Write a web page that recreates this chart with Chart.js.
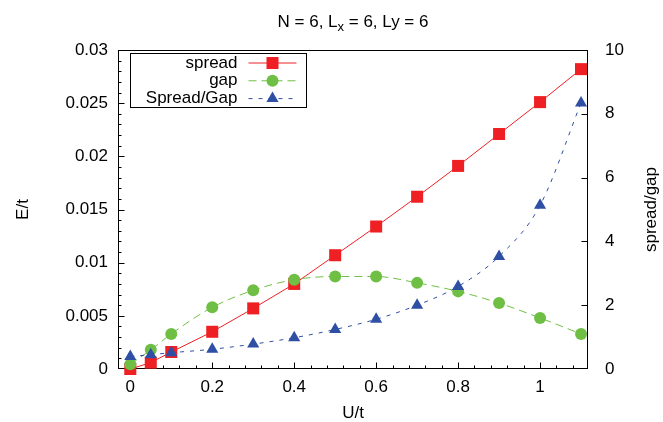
<!DOCTYPE html>
<html>
<head>
<meta charset="utf-8">
<script src="https://cdn.jsdelivr.net/npm/chart.js@4"></script>
<style>
  html, body { margin: 0; padding: 0; background: #fff; }
  canvas { display: block; }
</style>
</head>
<body>
<canvas id="plot" width="663" height="422"></canvas>
<script>
"use strict"
// values
const uValues = [0, 0.05, 0.1, 0.2, 0.3, 0.4, 0.5, 0.6, 0.7, 0.8, 0.9, 1.0, 1.1];
const spread = [0.0000, 0.0006, 0.0016, 0.0035, 0.0057, 0.0080, 0.0107, 0.0134, 0.0162, 0.0191, 0.0221, 0.0251, 0.0282];
const gap = [0.00044, 0.0018, 0.0033, 0.0058, 0.0074, 0.0084, 0.0087, 0.0087, 0.0081, 0.0073, 0.0062, 0.0048, 0.0033];
const ratio = [0.39, 0.45, 0.51, 0.62, 0.78, 0.98, 1.24, 1.56, 2.0, 2.59, 3.53, 5.13, 8.34];

// tick labels
const xTicks = [0, 0.2, 0.4, 0.6, 0.8, 1];
const yTicks = [0, 0.005, 0.01, 0.015, 0.02, 0.025, 0.03];
const y2Ticks = [0, 2, 4, 6, 8, 10];

const FONT = '"Liberation Sans", Arial, sans-serif';
const RED = '#ee2024';
const GREEN = '#70bf45';
const BLUE = '#2f4fa4';

const legendItems = [
  { label: 'spread', color: RED, dash: [], style: 'rect' },
  { label: 'gap', color: GREEN, dash: [8, 5], style: 'circle' },
  { label: 'Spread/Gap', color: BLUE, dash: [4, 6], style: 'triangle' }
];

function pts(ys) {
  return uValues.map((u, i) => ({ x: u, y: ys[i] }));
}

function marker(ctx, style, x, y, color) {
  ctx.save();
  ctx.fillStyle = color;
  ctx.setLineDash([]);
  ctx.beginPath();
  if (style === 'rect') {
    ctx.rect(x - 6, y - 6, 12, 12);
  } else if (style === 'circle') {
    ctx.arc(x, y, 6, 0, Math.PI * 2);
  } else {
    ctx.moveTo(x, y - 7);
    ctx.lineTo(x + 6.1, y + 3.5);
    ctx.lineTo(x - 6.1, y + 3.5);
    ctx.closePath();
  }
  ctx.fill();
  ctx.restore();
}

// frame + inward ticks (gnuplot look)
const framePlugin = {
  id: 'frame',
  beforeDatasetsDraw(chart) {
    const { ctx, chartArea: a, scales } = chart;
    const L = Math.round(a.left) + 0.5, R = Math.round(a.right) - 0.5;
    const T = Math.round(a.top) + 0.5, B = Math.round(a.bottom) - 0.5;
    ctx.save();
    ctx.strokeStyle = '#000';
    ctx.lineWidth = 1;
    ctx.beginPath();
    // x ticks
    for (let k = 1; k * 0.04 < scales.x.max; k++) {
      const v = k * 0.04;
      const px = Math.round(scales.x.getPixelForValue(v)) + 0.5;
      const major = k % 5 === 0;
      ctx.moveTo(px, B);
      ctx.lineTo(px, B - (major ? 6 : 3));
    }
    // left y ticks
    for (let k = 1; k < 30; k++) {
      const py = Math.round(scales.y.getPixelForValue(k * 0.001)) + 0.5;
      ctx.moveTo(L, py);
      ctx.lineTo(L + (k % 5 === 0 ? 6 : 3), py);
    }
    // right y ticks
    y2Ticks.forEach(v => {
      if (v === 0 || v === 10) return;
      const py = Math.round(scales.y2.getPixelForValue(v)) + 0.5;
      ctx.moveTo(R, py);
      ctx.lineTo(R - 6, py);
    });
    ctx.stroke();
    ctx.strokeRect(L, T, R - L, B - T);
    ctx.restore();
  },
  afterDraw(chart) {
    const { ctx, chartArea: a } = chart;
    ctx.save();
    ctx.fillStyle = '#000';

    // title with subscript
    const big = '17px ' + FONT, small = '13px ' + FONT;
    const p1 = 'N = 6, L', p2 = 'x', p3 = ' = 6, Ly = 6';
    ctx.font = big;
    const w1 = ctx.measureText(p1).width, w3 = ctx.measureText(p3).width;
    ctx.font = small;
    const w2 = ctx.measureText(p2).width;
    let tx = (a.left + a.right) / 2 - (w1 + w2 + w3) / 2;
    ctx.textBaseline = 'alphabetic';
    ctx.textAlign = 'left';
    ctx.font = big;
    ctx.fillText(p1, tx, 27);
    ctx.font = small;
    ctx.fillText(p2, tx + w1, 31);
    ctx.font = big;
    ctx.fillText(p3, tx + w1 + w2, 27);

    // axis titles
    ctx.font = '17px ' + FONT;
    ctx.textAlign = 'center';
    ctx.textBaseline = 'middle';
    ctx.fillText('U/t', (a.left + a.right) / 2, 413);
    ctx.save();
    ctx.translate(23, (a.top + a.bottom) / 2);
    ctx.rotate(-Math.PI / 2);
    ctx.fillText('E/t', 0, 0);
    ctx.restore();
    ctx.save();
    ctx.translate(651, (a.top + a.bottom) / 2);
    ctx.rotate(-Math.PI / 2);
    ctx.fillText('spread/gap', 0, 0);
    ctx.restore();

    // legend box
    const bx = a.left + 12.5, by = a.top + 3.5;
    ctx.fillStyle = '#fff';
    ctx.fillRect(bx, by, 176, 54);
    ctx.strokeStyle = '#000';
    ctx.lineWidth = 1;
    ctx.strokeRect(bx, by, 176, 54);
    legendItems.forEach((it, i) => {
      const cy = by + 9.5 + i * 17.8;
      ctx.fillStyle = '#000';
      ctx.textAlign = 'right';
      ctx.font = '17px ' + FONT;
      ctx.fillText(it.label, bx + 107, cy);
      ctx.strokeStyle = it.color;
      ctx.setLineDash(it.dash);
      ctx.beginPath();
      ctx.moveTo(bx + 118, cy);
      ctx.lineTo(bx + 166, cy);
      ctx.stroke();
      ctx.setLineDash([]);
      marker(ctx, it.style, bx + 142, cy, it.color);
    });
    ctx.restore();
  }
};

new Chart(document.getElementById('plot'), {
  type: 'line',
  data: {
    datasets: [
      {
        label: 'spread',
        data: pts(spread),
        yAxisID: 'y',
        borderColor: RED,
        borderWidth: 1,
        backgroundColor: RED,
        pointStyle: 'rect',
        pointRadius: 8.5,
        pointBorderWidth: 0,
        tension: 0,
        clip: false,
        order: 2
      },
      {
        label: 'gap',
        data: pts(gap),
        yAxisID: 'y',
        borderColor: GREEN,
        borderWidth: 1,
        borderDash: [8, 5],
        backgroundColor: GREEN,
        pointStyle: 'circle',
        pointRadius: 6,
        pointBorderWidth: 0,
        cubicInterpolationMode: 'monotone',
        clip: false,
        order: 1
      },
      {
        label: 'Spread/Gap',
        data: pts(ratio),
        yAxisID: 'y2',
        borderColor: BLUE,
        borderWidth: 1,
        borderDash: [4, 6],
        backgroundColor: BLUE,
        pointStyle: 'triangle',
        pointRadius: 7,
        pointBorderWidth: 0,
        cubicInterpolationMode: 'monotone',
        clip: false,
        order: 0
      }
    ]
  },
  options: {
    responsive: false,
    animation: false,
    layout: { padding: { top: 50, left: 0, right: 0, bottom: 0 } },
    plugins: {
      legend: { display: false },
      tooltip: { enabled: false }
    },
    scales: {
      x: {
        type: 'linear',
        min: -0.03,
        max: 1.117,
        grid: { display: false, drawTicks: false },
        border: { display: false },
        afterBuildTicks: s => { s.ticks = xTicks.map(v => ({ value: v })); },
        afterFit: s => { s.height = 53; },
        ticks: {
          padding: 8,
          color: '#000',
          font: { family: FONT, size: 17 },
          callback: v => String(v)
        }
      },
      y: {
        position: 'left',
        min: 0,
        max: 0.03,
        grid: { display: false, drawTicks: false },
        border: { display: false },
        afterBuildTicks: s => { s.ticks = yTicks.map(v => ({ value: v })); },
        afterFit: s => { s.width = 118; },
        ticks: {
          padding: 10,
          color: '#000',
          font: { family: FONT, size: 17 },
          callback: v => String(v)
        }
      },
      y2: {
        position: 'right',
        min: 0,
        max: 10,
        grid: { display: false, drawTicks: false },
        border: { display: false },
        afterBuildTicks: s => { s.ticks = y2Ticks.map(v => ({ value: v })); },
        afterFit: s => { s.width = 75; },
        ticks: {
          padding: 17,
          color: '#000',
          font: { family: FONT, size: 17 },
          callback: v => String(v)
        }
      }
    }
  },
  plugins: [framePlugin]
});
</script>
</body>
</html>
